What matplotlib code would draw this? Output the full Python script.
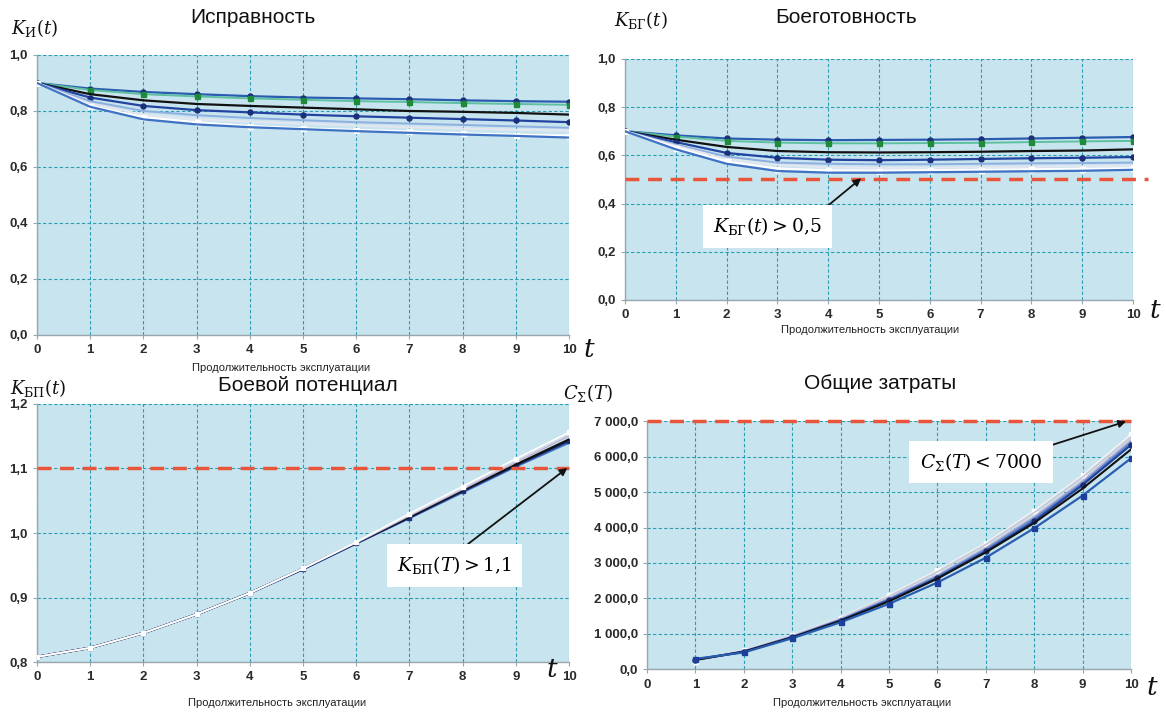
import matplotlib
matplotlib.use("Agg")
import matplotlib.pyplot as plt
from matplotlib.ticker import FuncFormatter, MultipleLocator
import numpy as np

plt.rcParams['font.family'] = ['Liberation Sans', 'DejaVu Sans']
plt.rcParams['mathtext.fontset'] = 'custom'
plt.rcParams['mathtext.rm'] = 'DejaVu Serif'
plt.rcParams['mathtext.it'] = 'DejaVu Serif:italic'

# ---------------- data ----------------
t = list(range(0, 11))
t_cost = list(range(1, 11))

# Исправность K_И(t)
ki_s1 = [0.900, 0.880, 0.868, 0.860, 0.853, 0.848, 0.845, 0.842, 0.838, 0.835, 0.833]
ki_s2 = [0.900, 0.875, 0.860, 0.852, 0.845, 0.840, 0.835, 0.832, 0.828, 0.825, 0.822]
ki_s3 = [0.900, 0.860, 0.838, 0.825, 0.818, 0.812, 0.806, 0.800, 0.797, 0.793, 0.787]
ki_s4 = [0.900, 0.848, 0.818, 0.803, 0.795, 0.787, 0.781, 0.776, 0.771, 0.766, 0.760]
ki_s5 = [0.900, 0.835, 0.800, 0.785, 0.775, 0.767, 0.760, 0.755, 0.750, 0.745, 0.740]
ki_s6 = [0.900, 0.825, 0.787, 0.770, 0.762, 0.755, 0.748, 0.742, 0.737, 0.733, 0.730]
ki_s7 = [0.900, 0.818, 0.778, 0.760, 0.746, 0.738, 0.732, 0.727, 0.720, 0.715, 0.712]
ki_s8 = [0.900, 0.815, 0.770, 0.752, 0.742, 0.735, 0.728, 0.722, 0.716, 0.711, 0.705]

# Боеготовность K_БГ(t)
kbg_s1 = [0.700, 0.683, 0.670, 0.665, 0.663, 0.664, 0.665, 0.667, 0.670, 0.673, 0.676]
kbg_s2 = [0.700, 0.678, 0.660, 0.653, 0.650, 0.650, 0.651, 0.652, 0.655, 0.658, 0.660]
kbg_s3 = [0.700, 0.665, 0.635, 0.618, 0.613, 0.612, 0.613, 0.615, 0.618, 0.620, 0.625]
kbg_s4 = [0.700, 0.655, 0.610, 0.590, 0.582, 0.580, 0.582, 0.585, 0.588, 0.590, 0.593]
kbg_s5 = [0.700, 0.645, 0.595, 0.570, 0.565, 0.563, 0.563, 0.565, 0.567, 0.568, 0.570]
kbg_s6 = [0.700, 0.640, 0.585, 0.560, 0.550, 0.548, 0.548, 0.550, 0.553, 0.555, 0.557]
kbg_s7 = [0.700, 0.632, 0.575, 0.545, 0.538, 0.537, 0.538, 0.540, 0.542, 0.544, 0.546]
kbg_s8 = [0.700, 0.625, 0.565, 0.535, 0.528, 0.528, 0.530, 0.532, 0.534, 0.536, 0.540]

# Боевой потенциал K_БП(t)
kbp_s1 = [0.808, 0.822, 0.845, 0.874, 0.907, 0.945, 0.986, 1.030, 1.072, 1.115, 1.156]
kbp_s2 = [0.808, 0.822, 0.845, 0.874, 0.907, 0.945, 0.986, 1.028, 1.070, 1.112, 1.153]
kbp_s3 = [0.808, 0.822, 0.845, 0.874, 0.907, 0.945, 0.985, 1.027, 1.068, 1.110, 1.151]
kbp_s4 = [0.808, 0.822, 0.845, 0.874, 0.907, 0.945, 0.985, 1.025, 1.066, 1.106, 1.145]
kbp_s5 = [0.808, 0.822, 0.845, 0.874, 0.907, 0.944, 0.984, 1.024, 1.065, 1.105, 1.143]
kbp_s6 = [0.808, 0.822, 0.845, 0.874, 0.907, 0.944, 0.984, 1.023, 1.063, 1.103, 1.140]

# Общие затраты C_Σ(T)
c_s1 = [250, 540, 960, 1460, 2090, 2790, 3560, 4470, 5470, 6620]
c_s2 = [250, 530, 950, 1440, 2060, 2750, 3520, 4420, 5420, 6550]
c_s3 = [260, 520, 930, 1410, 2000, 2650, 3420, 4300, 5300, 6450]
c_s4 = [270, 510, 920, 1400, 1980, 2620, 3380, 4250, 5250, 6400]
c_s5 = [280, 500, 910, 1380, 1950, 2580, 3330, 4180, 5200, 6330]
c_s6 = [270, 500, 900, 1370, 1920, 2560, 3300, 4130, 5100, 6200]
c_s7 = [300, 480, 880, 1330, 1850, 2450, 3150, 3980, 4900, 5950]

kbg_limit = 0.5
kbp_limit = 1.1
cost_limit = 7000

titles = ['Исправность', 'Боеготовность', 'Боевой потенциал', 'Общие затраты']
xlabel = 'Продолжительность эксплуатации'

# ---------------- styling ----------------
BG = '#c8e5ef'
GRID = '#2a9db3'
RED = '#e8553a'
MS = 3.6

fig = plt.figure(figsize=(11.66, 7.12), dpi=100)
fig.patch.set_facecolor('white')


def style_axes(ax):
    ax.set_facecolor(BG)
    for s in ['top', 'right']:
        ax.spines[s].set_visible(False)
    for s in ['left', 'bottom']:
        ax.spines[s].set_color('#9aa6ad')
        ax.spines[s].set_linewidth(1.0)
    ax.grid(True, which='major', color=GRID, linestyle=(0, (3, 2)), linewidth=0.8)
    ax.set_axisbelow(True)
    ax.tick_params(axis='both', colors='#9aa6ad', labelcolor='#2a2a2a',
                   labelsize=9.5, length=3, width=0.8)
    ax.set_xlim(0, 10)
    ax.xaxis.set_major_locator(MultipleLocator(1))


def bold_labels(ax):
    for lab in ax.get_xticklabels() + ax.get_yticklabels():
        lab.set_fontweight('bold')


def comma1(v, pos):
    return f'{v:.1f}'.replace('.', ',')


def cost_fmt(v, pos):
    return f'{v:,.1f}'.replace(',', ' ').replace('.', ',')


# Series styles: (color, lw, marker, markerfacecolor)
styles8 = [
    ('#2a5db0', 1.6, 'o', '#1b2f7a'),
    ('#5fc0a0', 1.4, 's', '#1e8a3a'),
    ('#111111', 1.6, None, None),
    ('#2244a0', 1.6, 'o', '#1b2f7a'),
    ('#8eaee0', 1.4, None, None),
    ('#e6e6f0', 1.4, None, None),
    ('#ffffff', 1.6, 's', '#ffffff'),
    ('#3f72c4', 1.6, None, None),
]

ann_kw = dict(ha='center', va='center', fontsize=13.5,
              bbox=dict(boxstyle='square,pad=0.55', fc='white', ec='none'),
              zorder=5)


def arrow(rel):
    return dict(arrowstyle='-|>', color='#111111', lw=1.3, mutation_scale=11,
                shrinkA=0, shrinkB=0, relpos=rel)


# ---------------- panel 1 ----------------
ax1 = fig.add_axes([0.0317, 0.5295, 0.4563, 0.3933])
style_axes(ax1)
for data, (c, lw, m, mfc) in zip([ki_s1, ki_s2, ki_s3, ki_s4, ki_s5, ki_s6, ki_s7, ki_s8], styles8):
    ax1.plot(t, data, color=c, lw=lw, marker=m, markersize=MS if m else 0,
             markerfacecolor=mfc, markeredgecolor=mfc, zorder=3)
ax1.set_ylim(0, 1.0)
ax1.yaxis.set_major_locator(MultipleLocator(0.2))
ax1.yaxis.set_major_formatter(FuncFormatter(comma1))
bold_labels(ax1)

# ---------------- panel 2 ----------------
ax2 = fig.add_axes([0.5360, 0.5787, 0.4357, 0.3385])
style_axes(ax2)
for data, (c, lw, m, mfc) in zip([kbg_s1, kbg_s2, kbg_s3, kbg_s4, kbg_s5, kbg_s6, kbg_s7, kbg_s8], styles8):
    ax2.plot(t, data, color=c, lw=lw, marker=m, markersize=MS if m else 0,
             markerfacecolor=mfc, markeredgecolor=mfc, zorder=3)
ax2.set_ylim(0, 1.0)
ax2.yaxis.set_major_locator(MultipleLocator(0.2))
ax2.yaxis.set_major_formatter(FuncFormatter(comma1))
ax2.plot([0, 10.3], [kbg_limit, kbg_limit], color=RED, lw=2.5,
         linestyle=(0, (4, 2.5)), clip_on=False, zorder=4)
ax2.annotate(r'$K_{\mathrm{БГ}}(t) > 0{,}5$', xy=(4.65, 0.505), xytext=(2.8, 0.305),
             arrowprops=arrow((0.95, 1.0)), **ann_kw)
bold_labels(ax2)

# ---------------- panel 3 ----------------
ax3 = fig.add_axes([0.0317, 0.0702, 0.4563, 0.3624])
style_axes(ax3)
styles6 = [
    ('#ffffff', 1.2, 's', '#ffffff'),
    ('#d4d8e6', 1.4, None, None),
    ('#b9aed0', 1.4, None, None),
    ('#111111', 1.6, None, None),
    ('#1b2f7a', 1.8, 's', '#1b2f7a'),
    ('#3f72c4', 1.6, None, None),
]
order = [5, 4, 3, 2, 1, 0]
series3 = [kbp_s1, kbp_s2, kbp_s3, kbp_s4, kbp_s5, kbp_s6]
for i in order:
    c, lw, m, mfc = styles6[i]
    ax3.plot(t, series3[i], color=c, lw=lw, marker=m, markersize=3.2 if m else 0,
             markerfacecolor=mfc, markeredgecolor=mfc, zorder=3)
ax3.set_ylim(0.8, 1.2)
ax3.yaxis.set_major_locator(MultipleLocator(0.1))
ax3.yaxis.set_major_formatter(FuncFormatter(comma1))
ax3.plot([0, 10], [kbp_limit, kbp_limit], color=RED, lw=2.5,
         linestyle=(0, (4, 2.5)), clip_on=False, zorder=4)
ax3.annotate(r'$K_{\mathrm{БП}}(T) > 1{,}1$', xy=(9.97, 1.101), xytext=(7.85, 0.95),
             arrowprops=arrow((0.5, 1.0)), **ann_kw)
bold_labels(ax3)

# ---------------- panel 4 ----------------
ax4 = fig.add_axes([0.5549, 0.0597, 0.4151, 0.3490])
style_axes(ax4)
styles7 = [
    ('#f2f2f6', 1.4, 's', '#ffffff'),
    ('#c9cbd8', 1.4, None, None),
    ('#b8a8cc', 1.4, None, None),
    ('#5b86cc', 1.4, None, None),
    ('#2244a0', 1.6, 'o', '#1b2f7a'),
    ('#111111', 1.5, None, None),
    ('#2a5db0', 1.6, 's', '#1b3f9a'),
]
for data, (c, lw, m, mfc) in zip([c_s1, c_s2, c_s3, c_s4, c_s5, c_s6, c_s7], styles7):
    ax4.plot(t_cost, data, color=c, lw=lw, marker=m, markersize=MS if m else 0,
             markerfacecolor=mfc, markeredgecolor=mfc, zorder=3)
ax4.set_ylim(0, 7000)
ax4.yaxis.set_major_locator(MultipleLocator(1000))
ax4.yaxis.set_major_formatter(FuncFormatter(cost_fmt))
ax4.plot([0, 10], [cost_limit, cost_limit], color=RED, lw=2.5,
         linestyle=(0, (4, 2.5)), clip_on=False, zorder=4)
ax4.annotate(r'$C_{\Sigma}(T) < 7000$', xy=(9.9, 6990), xytext=(6.9, 5850),
             arrowprops=arrow((0.93, 1.0)), **ann_kw)
bold_labels(ax4)

# ---------------- figure texts ----------------
title_kw = dict(fontsize=15, ha='center', va='center', color='#111111')
fig.text(0.217, 0.975, titles[0], **title_kw)
fig.text(0.726, 0.975, titles[1], **title_kw)
fig.text(0.264, 0.458, titles[2], **title_kw)
fig.text(0.755, 0.462, titles[3], **title_kw)

xl_kw = dict(fontsize=8, ha='center', va='center', color='#222222')
fig.text(0.241, 0.483, xlabel, **xl_kw)
fig.text(0.746, 0.5365, xlabel, **xl_kw)
fig.text(0.238, 0.0126, xlabel, **xl_kw)
fig.text(0.739, 0.0126, xlabel, **xl_kw)

yl_kw = dict(fontsize=13, ha='center', va='center', color='#111111')
fig.text(0.030, 0.961, r'$K_{\mathrm{И}}(t)$', **yl_kw)
fig.text(0.5497, 0.972, r'$K_{\mathrm{БГ}}(t)$', **yl_kw)
fig.text(0.0326, 0.455, r'$K_{\mathrm{БП}}(t)$', **yl_kw)
fig.text(0.504, 0.448, r'$C_{\Sigma}(T)$', **yl_kw)

t_kw = dict(fontsize=19, ha='center', va='center', color='#111111')
fig.text(0.505, 0.508, r'$t$', **t_kw)
fig.text(0.9906, 0.563, r'$t$', **t_kw)
fig.text(0.474, 0.059, r'$t$', **t_kw)
fig.text(0.988, 0.034, r'$t$', **t_kw)

fig.savefig('out.png', dpi=100, facecolor='white')
